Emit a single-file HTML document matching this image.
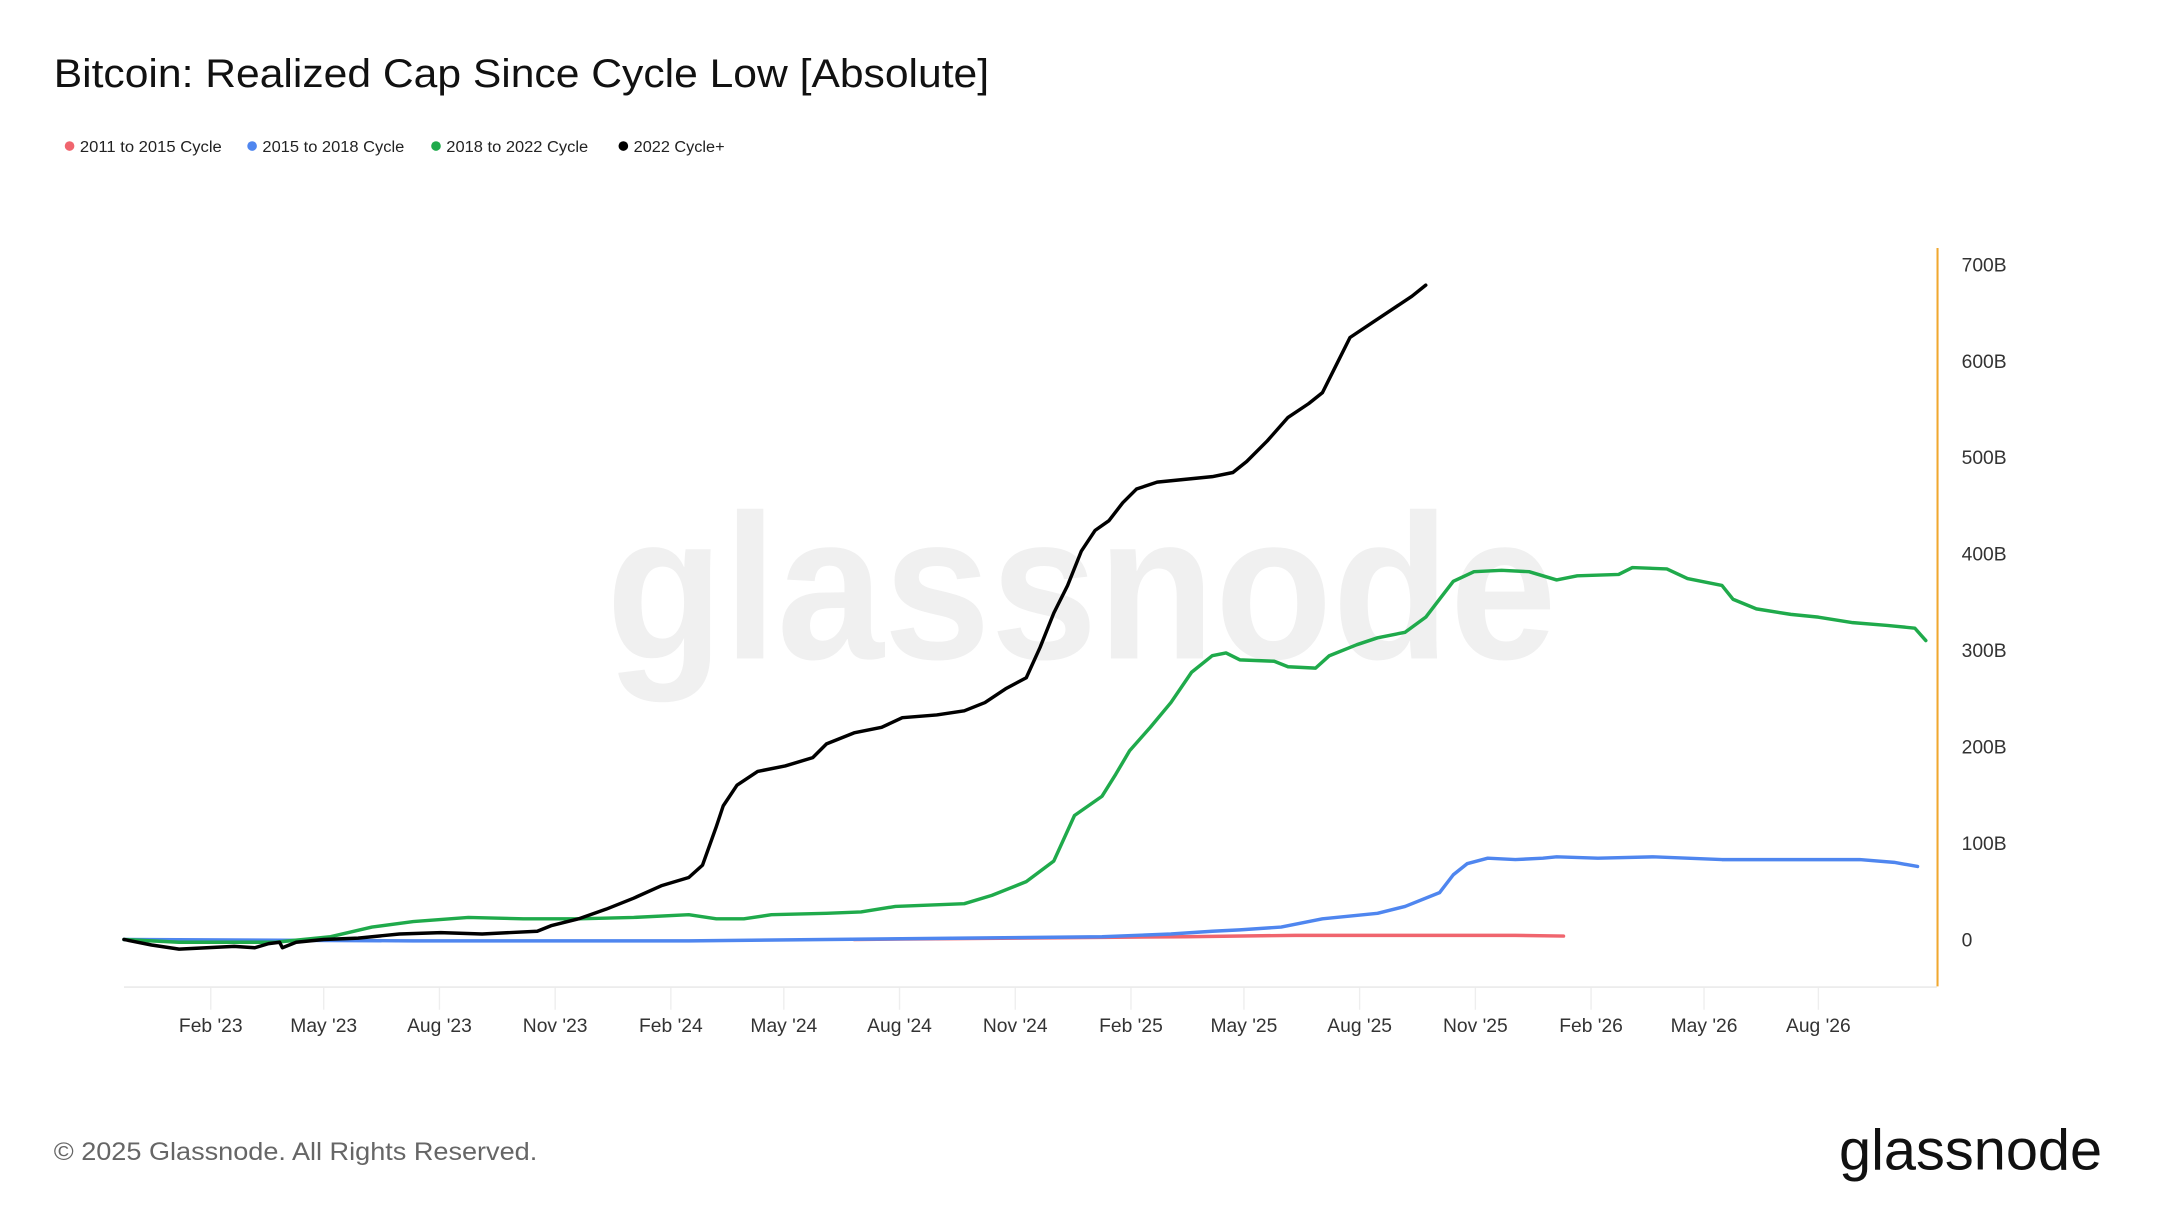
<!DOCTYPE html>
<html><head><meta charset="utf-8"><style>
html,body{margin:0;padding:0;background:#fff;}
svg{display:block;}
</style></head><body>
<svg width="2160" height="1215" viewBox="0 0 1568 882" xmlns="http://www.w3.org/2000/svg" font-family="Liberation Sans, sans-serif">
<rect width="1568" height="882" fill="#fff"/>
<text x="440" y="478" font-size="150" font-weight="bold" fill="#f0f0f0" textLength="690" lengthAdjust="spacingAndGlyphs">glassnode</text>
<text x="39" y="63" font-size="29" fill="#111" textLength="679" lengthAdjust="spacingAndGlyphs">Bitcoin: Realized Cap Since Cycle Low [Absolute]</text>
<g font-size="11.5" fill="#222">
<circle cx="50.5" cy="106" r="3.5" fill="#f0656e"/><text x="58" y="110.5" textLength="103" lengthAdjust="spacingAndGlyphs">2011 to 2015 Cycle</text>
<circle cx="183" cy="106" r="3.5" fill="#4f86ef"/><text x="190.5" y="110.5" textLength="103" lengthAdjust="spacingAndGlyphs">2015 to 2018 Cycle</text>
<circle cx="316.5" cy="106" r="3.5" fill="#1faa4b"/><text x="324" y="110.5" textLength="103" lengthAdjust="spacingAndGlyphs">2018 to 2022 Cycle</text>
<circle cx="452.5" cy="106" r="3.5" fill="#000"/><text x="460" y="110.5" textLength="66" lengthAdjust="spacingAndGlyphs">2022 Cycle+</text>
</g>
<line x1="90" y1="716.5" x2="1406" y2="716.5" stroke="#e6e6e6" stroke-width="1"/>
<g stroke="#eeeeee" stroke-width="1">
<line x1="153" y1="717" x2="153" y2="733"/><line x1="235" y1="717" x2="235" y2="733"/><line x1="319" y1="717" x2="319" y2="733"/><line x1="403" y1="717" x2="403" y2="733"/><line x1="487" y1="717" x2="487" y2="733"/><line x1="569" y1="717" x2="569" y2="733"/><line x1="653" y1="717" x2="653" y2="733"/><line x1="737" y1="717" x2="737" y2="733"/><line x1="821" y1="717" x2="821" y2="733"/><line x1="903" y1="717" x2="903" y2="733"/><line x1="987" y1="717" x2="987" y2="733"/><line x1="1071" y1="717" x2="1071" y2="733"/><line x1="1155" y1="717" x2="1155" y2="733"/><line x1="1237" y1="717" x2="1237" y2="733"/><line x1="1320" y1="717" x2="1320" y2="733"/>
</g>
<g font-size="14" fill="#333" text-anchor="middle">
<text x="153" y="749">Feb '23</text><text x="235" y="749">May '23</text><text x="319" y="749">Aug '23</text><text x="403" y="749">Nov '23</text><text x="487" y="749">Feb '24</text><text x="569" y="749">May '24</text><text x="653" y="749">Aug '24</text><text x="737" y="749">Nov '24</text><text x="821" y="749">Feb '25</text><text x="903" y="749">May '25</text><text x="987" y="749">Aug '25</text><text x="1071" y="749">Nov '25</text><text x="1155" y="749">Feb '26</text><text x="1237" y="749">May '26</text><text x="1320" y="749">Aug '26</text>
</g>
<line x1="1406.5" y1="180" x2="1406.5" y2="716" stroke="#f0a830" stroke-width="1.5"/>
<g font-size="14" fill="#333">
<text x="1424" y="197">700B</text><text x="1424" y="267">600B</text><text x="1424" y="337">500B</text><text x="1424" y="407">400B</text><text x="1424" y="477">300B</text><text x="1424" y="547">200B</text><text x="1424" y="617">100B</text><text x="1424" y="687">0</text>
</g>
<g fill="none" stroke-width="2.5" stroke-linejoin="round" stroke-linecap="round">
<polyline stroke="#f0656e" points="620,682 860,680 940,679 1000,679 1100,679 1135,679.5"/>
<polyline stroke="#4f86ef" points="90,682 300,683 500,683 700,681 800,680 850,678 880,676 900,675 930,673 960,667 980,665 1000,663 1020,658 1045,648 1055,635 1065,627 1080,623 1100,624 1120,623 1130,622 1160,623 1200,622 1250,624 1300,624 1350,624 1375,626 1392,629"/>
<polyline stroke="#1faa4b" points="90,682 130,684 200,684 240,680 270,673 300,669 340,666 380,667 420,667 460,666 500,664 520,667 540,667 560,664 600,663 625,662 650,658 700,656 720,650 745,640 765,625 780,592 790,585 800,578 810,562 820,545 835,528 850,510 865,488 880,476 890,474 900,479 925,480 935,484 955,485 965,476 985,468 1000,463 1020,459 1035,448 1045,435 1055,422 1070,415 1090,414 1110,415 1130,421 1145,418 1175,417 1185,412 1210,413 1225,420 1250,425 1258,435 1275,442 1300,446 1320,448 1345,452 1370,454 1390,456 1398,465"/>
<polyline stroke="#000" points="90,682 110,686 130,689 150,688 170,687 185,688 195,685 203,684 205,688 215,684 235,682 260,681 290,678 320,677 350,678 390,676 400,672 420,667 440,660 460,652 480,643 500,637 510,628 520,600 525,585 535,570 550,560 570,556 590,550 600,540 620,532 640,528 655,521 680,519 700,516 715,510 730,500 745,492 755,470 765,445 775,425 785,400 795,385 805,378 815,365 825,355 840,350 860,348 880,346 895,343 905,335 920,320 935,303 950,293 960,285 970,265 980,245 995,235 1010,225 1025,215 1035,207"/>
</g>
<text x="39" y="842" font-size="18" fill="#666" textLength="351" lengthAdjust="spacingAndGlyphs">© 2025 Glassnode. All Rights Reserved.</text>
<text x="1335" y="849" font-size="42" fill="#111" textLength="191" lengthAdjust="spacingAndGlyphs">glassnode</text>
</svg>
</body></html>
